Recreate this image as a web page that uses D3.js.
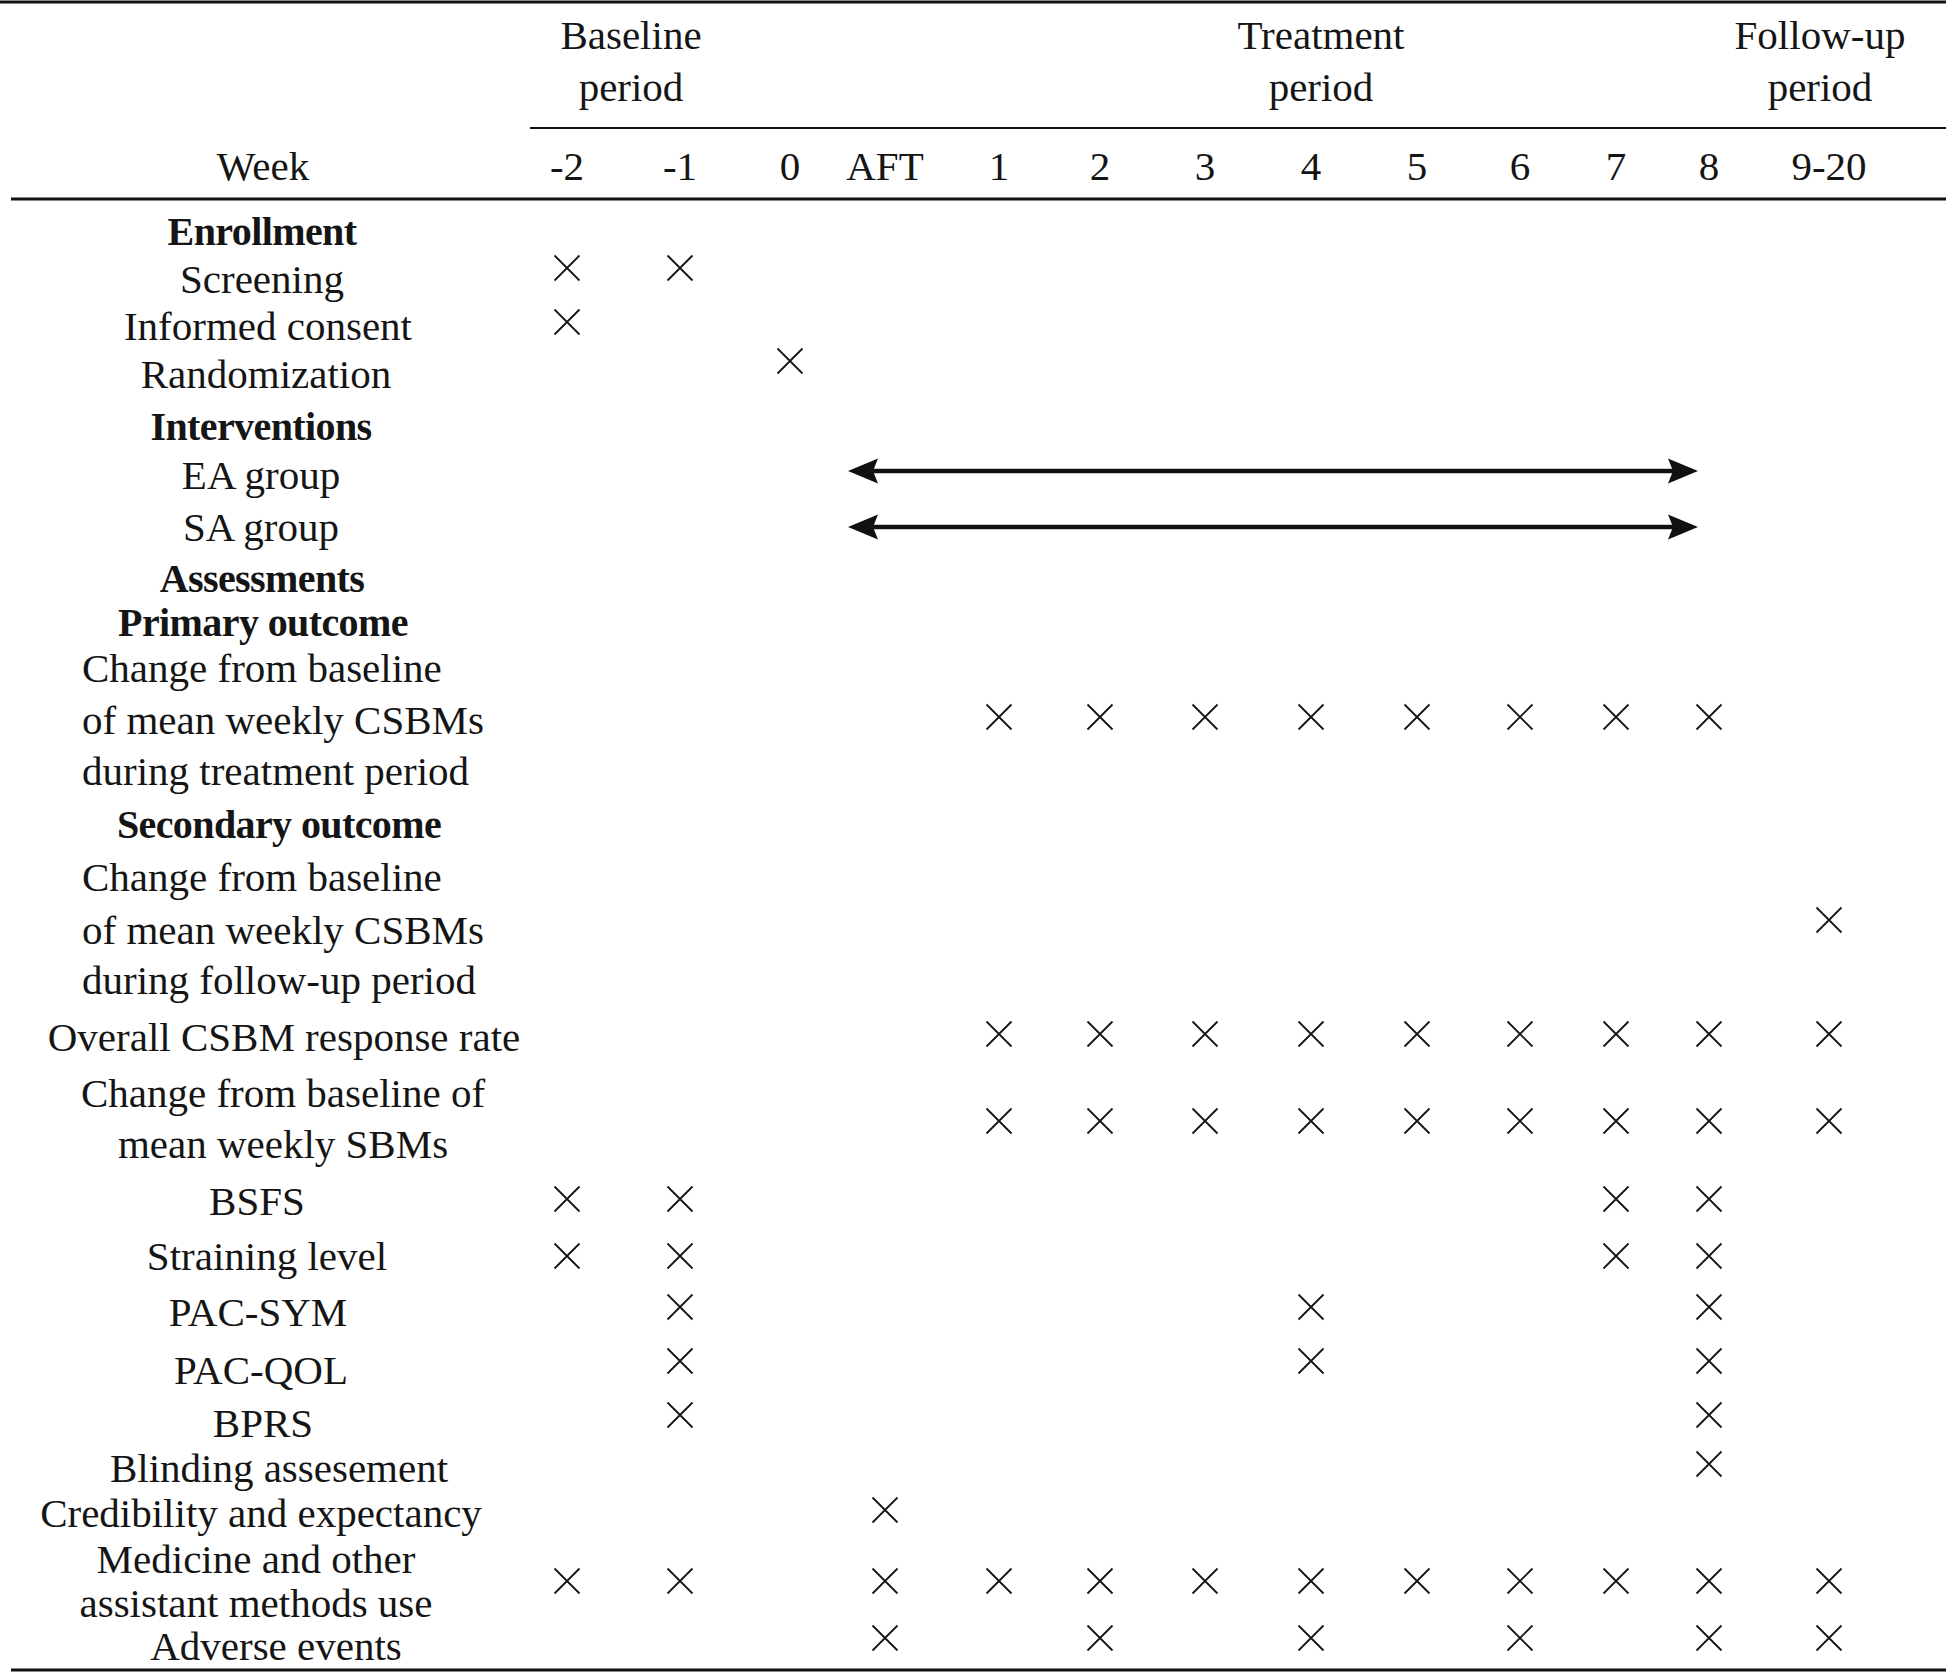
<!DOCTYPE html>
<html>
<head>
<meta charset="utf-8">
<script src="https://cdn.jsdelivr.net/npm/d3@7"></script>
<style>
  body { margin: 0; background: #fff; }
  svg text { font-family: "Liberation Serif", "Times New Roman", serif; fill: #151515; }
</style>
</head>
<body>
<div id="chart"></div>
<script>
// schedule of enrollment, interventions and assessments

// week columns of the table
var weeks = ['-2', '-1', '0', 'AFT', '1', '2', '3', '4', '5', '6', '7', '8', '9-20']

// period headings over the week columns
var periods = [
  { lines: ['Baseline', 'period'] },
  { lines: ['Treatment', 'period'] },
  { lines: ['Follow-up', 'period'] }
]

// row labels (one entry per line), bold flags, alignment and marked weeks
var rowLabels = [
  ['Enrollment'],
  ['Screening'],
  ['Informed consent'],
  ['Randomization'],
  ['Interventions'],
  ['EA group'],
  ['SA group'],
  ['Assessments'],
  ['Primary outcome'],
  ['Change from baseline', 'of mean weekly CSBMs', 'during treatment period'],
  ['Secondary outcome'],
  ['Change from baseline', 'of mean weekly CSBMs', 'during follow-up period'],
  ['Overall CSBM response rate'],
  ['Change from baseline of', 'mean weekly SBMs'],
  ['BSFS'],
  ['Straining level'],
  ['PAC-SYM'],
  ['PAC-QOL'],
  ['BPRS'],
  ['Blinding assesement'],
  ['Credibility and expectancy'],
  ['Medicine and other', 'assistant methods use'],
  ['Adverse events']
]
var rowBold = [1, 0, 0, 0, 1, 0, 0, 1, 1, 0, 1, 0, 0, 0, 0, 0, 0, 0, 0, 0, 0, 0, 0]
var rowLeft = [0, 0, 0, 0, 0, 0, 0, 0, 0, 1, 0, 1, 0, 0, 0, 0, 0, 0, 0, 0, 0, 0, 0]

var rowMarks = [
  [],
  ['-2', '-1'],
  ['-2'],
  ['0'],
  [],
  [],
  [],
  [],
  [],
  ['1', '2', '3', '4', '5', '6', '7', '8'],
  [],
  ['9-20'],
  ['1', '2', '3', '4', '5', '6', '7', '8', '9-20'],
  ['1', '2', '3', '4', '5', '6', '7', '8', '9-20'],
  ['-2', '-1', '7', '8'],
  ['-2', '-1', '7', '8'],
  ['-1', '4', '8'],
  ['-1', '4', '8'],
  ['-1', '8'],
  ['8'],
  ['AFT'],
  ['-2', '-1', 'AFT', '1', '2', '3', '4', '5', '6', '7', '8', '9-20'],
  ['AFT', '2', '4', '6', '8', '9-20']
]

// double arrows for the intervention rows (row index, first week, last week)
var arrows = [
  { row: 5, from: 'AFT', to: '8' },
  { row: 6, from: 'AFT', to: '8' }
]

// ---- layout ----
var W = 1946
var H = 1673
var labelLeftX = 82
var labelCx = [262, 262, 268, 266, 261, 261, 261, 262, 263, 0, 279, 0, 284, 283,
  257, 267, 258, 261, 263, 279, 261, 256, 276]
var periodCx = [631, 1321, 1820]
var colX = [567, 680, 790, 885, 999, 1100, 1205, 1311, 1417, 1520, 1616, 1709, 1829]
var lineY = [
  [231], [279], [326], [374], [426], [475], [527], [578], [622],
  [668, 720, 771], [824], [877, 930, 980], [1037], [1093, 1144],
  [1201], [1256], [1312], [1370], [1423], [1468], [1513], [1559, 1603], [1646]
]
var markY = [0, 268, 322, 361, 0, 471, 527, 0, 0, 717, 0, 920, 1034, 1121,
  1199, 1256, 1307, 1361, 1415, 1464, 1510, 1581, 1638]

var x = d3.scaleOrdinal().domain(weeks).range(colX)
var y = d3.scaleOrdinal().domain(d3.range(rowLabels.length)).range(markY)

var svg = d3.select('#chart')
  .append('svg')
  .attr('width', W)
  .attr('height', H)

// horizontal rules
var rules = [
  { x1: 0, x2: W, y: 2, w: 3 },
  { x1: 530, x2: W, y: 128, w: 2 },
  { x1: 11, x2: W, y: 199, w: 3 },
  { x1: 11, x2: W, y: 1670, w: 3 }
]
svg.append('g').selectAll('line')
  .data(rules)
  .enter()
  .append('line')
  .attr('x1', function (d) { return d.x1 })
  .attr('x2', function (d) { return d.x2 })
  .attr('y1', function (d) { return d.y })
  .attr('y2', function (d) { return d.y })
  .attr('stroke', '#111')
  .attr('stroke-width', function (d) { return d.w })

// period headings
var gPer = svg.append('g')
periods.forEach(function (p, k) {
  p.lines.forEach(function (t, i) {
    gPer.append('text')
      .attr('x', periodCx[k])
      .attr('y', 35 + i * 52)
      .attr('dy', '0.35em')
      .attr('text-anchor', 'middle')
      .attr('font-size', 41)
      .text(t)
  })
})

// week header
svg.append('text')
  .attr('x', 263)
  .attr('y', 166)
  .attr('dy', '0.35em')
  .attr('text-anchor', 'middle')
  .attr('font-size', 41)
  .text('Week')

svg.append('g').selectAll('text')
  .data(weeks)
  .enter()
  .append('text')
  .attr('x', function (d) { return x(d) })
  .attr('y', 166)
  .attr('dy', '0.35em')
  .attr('text-anchor', 'middle')
  .attr('font-size', 41)
  .text(function (d) { return d })

// row labels
var gLab = svg.append('g')
rowLabels.forEach(function (lines, r) {
  lines.forEach(function (t, i) {
    gLab.append('text')
      .attr('x', rowLeft[r] ? labelLeftX : labelCx[r])
      .attr('y', lineY[r][i])
      .attr('dy', '0.35em')
      .attr('text-anchor', rowLeft[r] ? 'start' : 'middle')
      .attr('font-size', rowBold[r] ? 40 : 41)
      .attr('font-weight', rowBold[r] ? 'bold' : 'normal')
      .attr('letter-spacing', rowBold[r] ? -0.6 : 0)
      .text(t)
  })
})

// cross marks
var marks = []
rowMarks.forEach(function (m, r) {
  m.forEach(function (wk) { marks.push({ row: r, week: wk }) })
})
var s = 12.5
svg.append('g').selectAll('path')
  .data(marks)
  .enter()
  .append('path')
  .attr('d', function (d) {
    var cx = x(d.week)
    var cy = y(d.row)
    return 'M' + (cx - s) + ',' + (cy - s) + 'L' + (cx + s) + ',' + (cy + s) +
      'M' + (cx + s) + ',' + (cy - s) + 'L' + (cx - s) + ',' + (cy + s)
  })
  .attr('stroke', '#151515')
  .attr('stroke-width', 1.8)
  .attr('fill', 'none')

// double arrows
var gArr = svg.append('g')
arrows.forEach(function (a) {
  var x0 = x(a.from) - 37
  var x1 = x(a.to) - 11
  var cy = y(a.row)
  gArr.append('line')
    .attr('x1', x0 + 25)
    .attr('x2', x1 - 25)
    .attr('y1', cy)
    .attr('y2', cy)
    .attr('stroke', '#111')
    .attr('stroke-width', 4.5)
  gArr.append('path')
    .attr('d', 'M' + x0 + ',' + cy + 'L' + (x0 + 30) + ',' + (cy - 12.5) +
      'L' + (x0 + 25) + ',' + cy + 'L' + (x0 + 30) + ',' + (cy + 12.5) + 'Z')
    .attr('fill', '#111')
  gArr.append('path')
    .attr('d', 'M' + x1 + ',' + cy + 'L' + (x1 - 30) + ',' + (cy - 12.5) +
      'L' + (x1 - 25) + ',' + cy + 'L' + (x1 - 30) + ',' + (cy + 12.5) + 'Z')
    .attr('fill', '#111')
})
</script>
</body>
</html>
